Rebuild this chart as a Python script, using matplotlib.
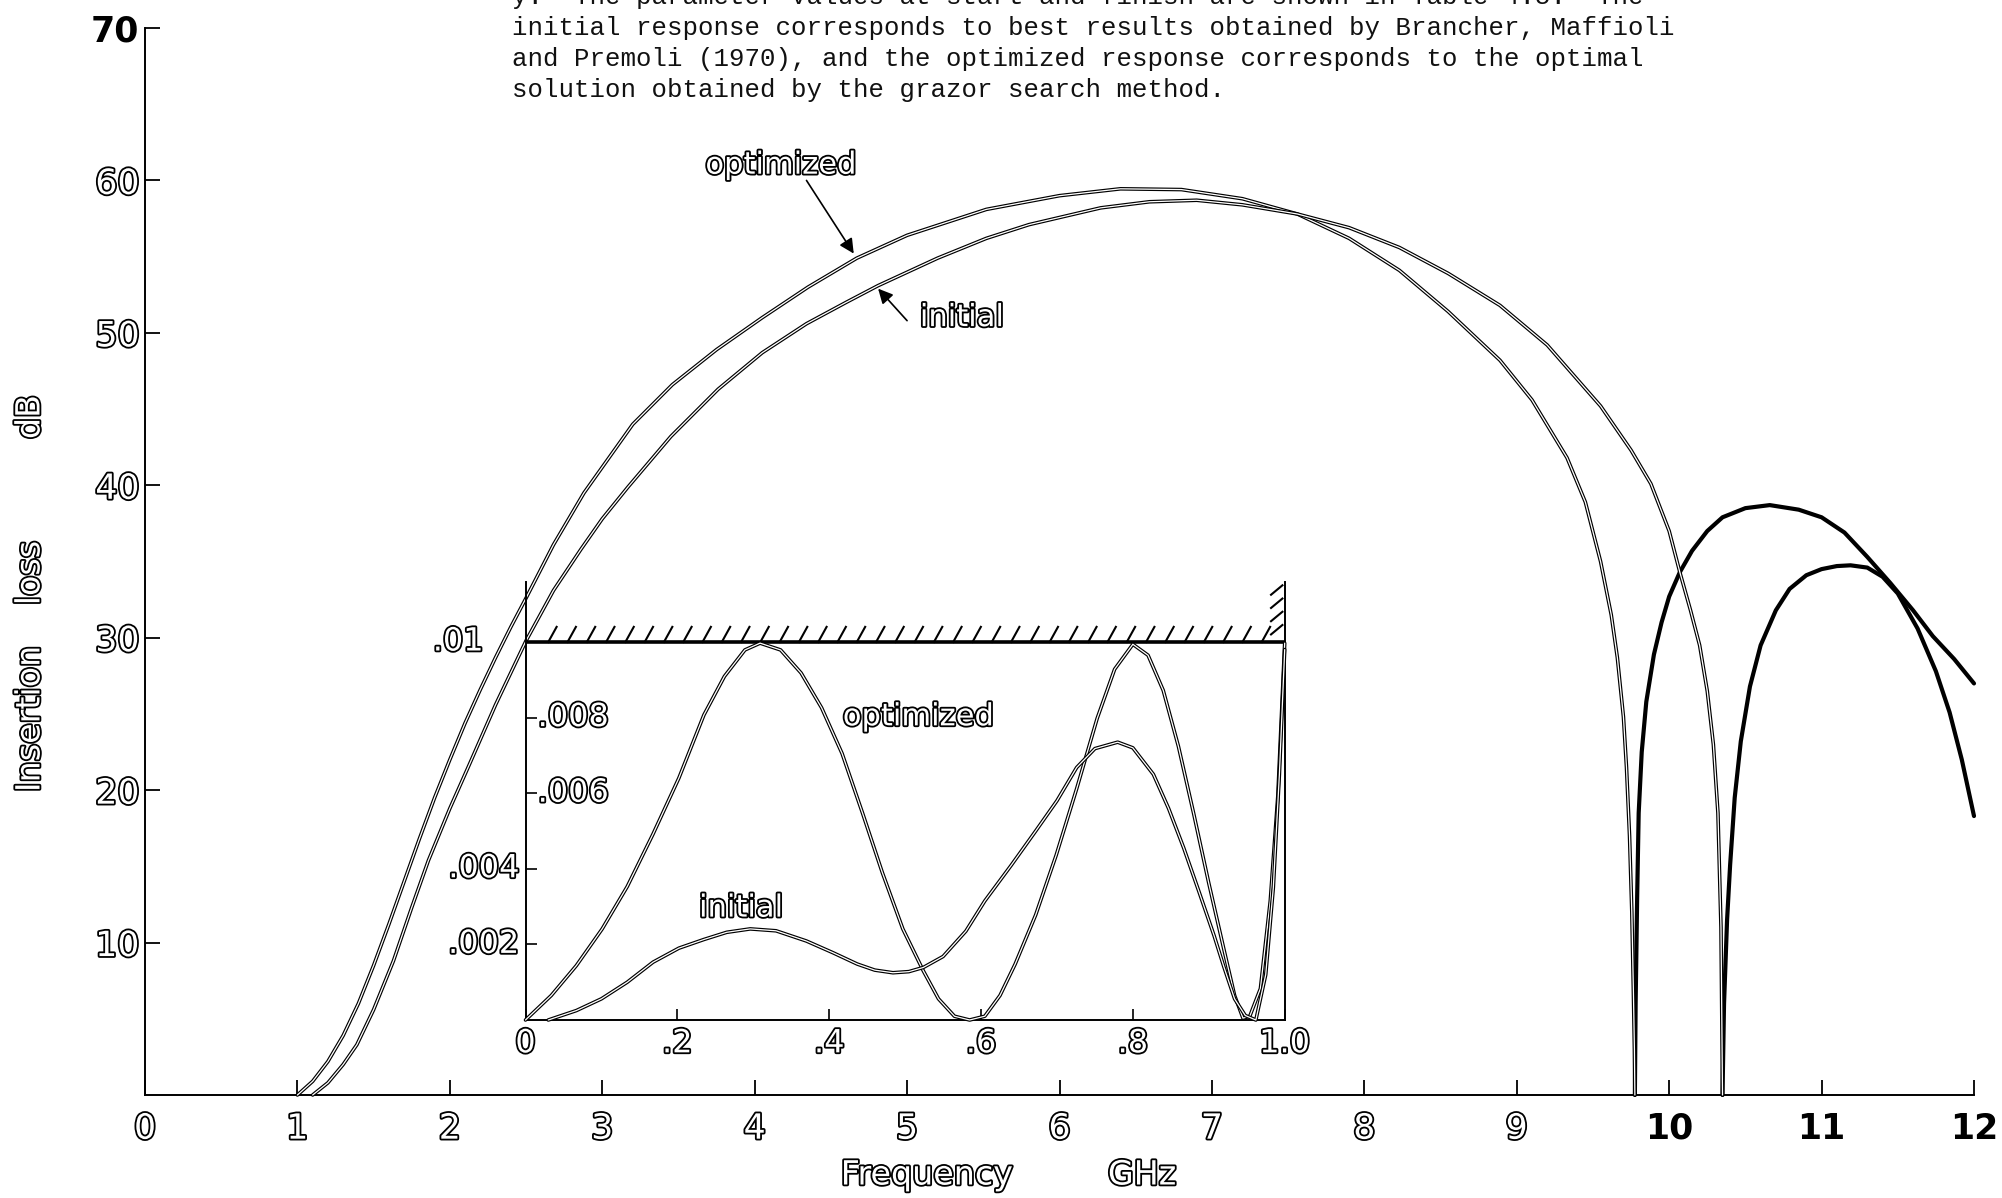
import numpy as np
import matplotlib.pyplot as plt
import matplotlib.patheffects as pe

# ---- main response, insertion loss (dB) vs frequency (GHz) ----
opt_f = [1.0, 1.1, 1.2, 1.3, 1.4, 1.5, 1.6, 1.7, 1.8, 1.9, 2.0, 2.1, 2.2, 2.3, 2.4, 2.5,
         2.68, 2.88, 3.2, 3.46, 3.75, 4.05, 4.35, 4.67, 5.0, 5.52, 6.0, 6.4, 6.8, 7.2,
         7.56, 7.9, 8.23, 8.55, 8.89, 9.1, 9.33, 9.45, 9.55, 9.62, 9.66, 9.70, 9.72,
         9.74, 9.755, 9.765, 9.772, 9.775]
opt_db = [0, 0.9, 2.2, 3.9, 6.0, 8.5, 11.2, 14.0, 16.8, 19.5, 22.0, 24.4, 26.6, 28.7, 30.7, 32.6,
          36.1, 39.5, 44.0, 46.6, 48.9, 51.0, 53.0, 54.9, 56.4, 58.1, 59.0, 59.45, 59.4, 58.8,
          57.8, 56.2, 54.1, 51.4, 48.2, 45.6, 41.8, 38.9, 35.0, 31.5, 28.7, 24.8, 21.5,
          17.0, 12.0, 7.0, 3.0, 0]

init_f = [1.1, 1.2, 1.3, 1.39, 1.5, 1.63, 1.75, 1.86, 2.0, 2.12, 2.3, 2.5, 2.68, 2.86, 3.0,
          3.17, 3.45, 3.76, 4.05, 4.34, 4.6, 4.81, 5.2, 5.52, 5.8, 6.27, 6.59, 6.9, 7.2, 7.56,
          7.9, 8.23, 8.55, 8.89, 9.2, 9.55, 9.75, 9.88, 10.0, 10.07, 10.14, 10.2, 10.25,
          10.29, 10.32, 10.34, 10.35]
init_db = [0, 0.8, 2.0, 3.3, 5.6, 8.8, 12.3, 15.4, 18.8, 21.5, 25.6, 29.8, 33.1, 35.8, 37.8,
           39.9, 43.2, 46.3, 48.7, 50.6, 52.0, 53.1, 54.9, 56.2, 57.1, 58.2, 58.6, 58.7, 58.4, 57.8,
           56.9, 55.6, 53.9, 51.8, 49.2, 45.2, 42.3, 40.1, 37.0, 34.3, 31.8, 29.5, 26.5,
           23.0, 18.5, 11.0, 0]

# lobes beyond the last attenuation pole
opt_tail_f = [9.775, 9.78, 9.79, 9.80, 9.82, 9.85, 9.9, 9.95, 10.0, 10.07, 10.15, 10.25, 10.35,
              10.5, 10.66, 10.85, 11.0, 11.15, 11.3, 11.45, 11.6, 11.73, 11.87, 12.0]
opt_tail_db = [0, 6.0, 13.0, 18.5, 22.5, 25.8, 28.9, 31.0, 32.7, 34.3, 35.7, 37.0, 37.9,
               38.5, 38.7, 38.4, 37.9, 36.9, 35.3, 33.6, 31.8, 30.1, 28.6, 27.0]
init_tail_f = [10.35, 10.36, 10.38, 10.40, 10.43, 10.47, 10.53, 10.6, 10.7, 10.79, 10.9, 11.0,
               11.1, 11.19, 11.3, 11.4, 11.5, 11.63, 11.75, 11.84, 11.92, 12.0]
init_tail_db = [0, 6.0, 11.5, 15.1, 19.5, 23.2, 26.8, 29.5, 31.8, 33.2, 34.1, 34.5,
                34.7, 34.75, 34.6, 34.0, 32.9, 30.6, 27.8, 25.1, 22.0, 18.3]

# ---- inset: passband, normalised frequency vs dB ----
ins_opt_f = [0.0, 0.034, 0.067, 0.101, 0.134, 0.168, 0.202, 0.235, 0.262, 0.289, 0.309, 0.336,
             0.363, 0.39, 0.417, 0.444, 0.47, 0.497, 0.524, 0.544, 0.565, 0.585, 0.605, 0.625,
             0.645, 0.672, 0.699, 0.726, 0.753, 0.776, 0.80, 0.82, 0.84, 0.86, 0.88, 0.90,
             0.92, 0.934, 0.945, 0.954, 0.968, 0.981, 0.991, 1.0]
ins_opt_db = [0.0, 0.00065, 0.00144, 0.00241, 0.00353, 0.00492, 0.0064, 0.00807, 0.00909,
              0.00979, 0.00997, 0.00979, 0.00918, 0.00826, 0.00705, 0.00547, 0.0039, 0.00241,
              0.0013, 0.00056, 0.0001, 0.0, 0.0001, 0.00065, 0.00148, 0.00278, 0.00436,
              0.00612, 0.00798, 0.00928, 0.00994, 0.00965, 0.00872, 0.00724, 0.00547, 0.00362,
              0.00186, 0.00065, 0.00005, 0.0001, 0.00083, 0.00315, 0.00594, 0.00997]
ins_init_f = [0.03, 0.067, 0.10, 0.134, 0.168, 0.202, 0.235, 0.265, 0.296, 0.33, 0.37, 0.405,
              0.437, 0.46, 0.484, 0.505, 0.524, 0.55, 0.58, 0.605, 0.64, 0.672, 0.70, 0.726,
              0.75, 0.78, 0.80, 0.827, 0.847, 0.867, 0.887, 0.907, 0.92, 0.934, 0.948, 0.962,
              0.975, 0.985, 0.993, 1.0]
ins_init_db = [0.0, 0.00025, 0.00056, 0.001, 0.00153, 0.0019, 0.00213, 0.00232, 0.00241,
               0.00236, 0.00209, 0.00178, 0.00148, 0.00132, 0.00125, 0.00128, 0.00139, 0.00168,
               0.00235, 0.00315, 0.0041, 0.005, 0.0058, 0.00668, 0.00718, 0.00735, 0.0072,
               0.0065, 0.0056, 0.00455, 0.0034, 0.00223, 0.0014, 0.00056, 0.00012, 0.0,
               0.0012, 0.0035, 0.0065, 0.0098]

x_ticks = list(range(13))
x_labels = [str(v) for v in x_ticks]
y_ticks = [10, 20, 30, 40, 50, 60, 70]
y_labels = [str(v) for v in y_ticks]
ins_x_ticks = [0, 0.2, 0.4, 0.6, 0.8, 1.0]
ins_x_labels = ['0', '.2', '.4', '.6', '.8', '1.0']
ins_y_ticks = [0.002, 0.004, 0.006, 0.008]
ins_y_labels = ['.002', '.004', '.006', '.008']

caption = ["y.  The parameter values at start and finish are shown in Table 4.5.  The",
           "initial response corresponds to best results obtained by Brancher, Maffioli",
           "and Premoli (1970), and the optimized response corresponds to the optimal",
           "solution obtained by the grazor search method."]

W, H = 2002, 1198
fig = plt.figure(figsize=(W / 100, H / 100), dpi=100)
fig.patch.set_facecolor('white')

hollow_fx = [pe.withStroke(linewidth=2.6, foreground='black')]


def hollow_text(t):
    t.set_color('white')
    t.set_path_effects(hollow_fx)


def hollow_line(ax, x, y, lw=2.6, z=3):
    ax.plot(x, y, color='white', lw=lw * 0.35, zorder=z, clip_on=False,
            solid_capstyle='round', solid_joinstyle='round',
            path_effects=[pe.Stroke(linewidth=lw, foreground='black'), pe.Normal()])


# main axes: x 0..12 -> px 145..1974, y 0..70 -> px 1095..28
ax = fig.add_axes([145 / W, (H - 1095) / H, 1829 / W, 1067 / H])
ax.set_xlim(0, 12)
ax.set_ylim(0, 70)
for s in ['top', 'right']:
    ax.spines[s].set_visible(False)
for s in ['left', 'bottom']:
    ax.spines[s].set_linewidth(1.4)
ax.tick_params(direction='in', length=11, width=1.3)
ax.tick_params(axis='x', pad=12)
ax.tick_params(axis='y', pad=4)
ax.set_xticks(x_ticks)
ax.set_xticklabels(x_labels, fontsize=25)
ax.set_yticks(y_ticks)
ax.set_yticklabels(y_labels, fontsize=25)
for t in ax.get_xticklabels():
    if t.get_text() in ('10', '11', '12'):
        t.set_fontweight('bold')
    else:
        hollow_text(t)
for t in ax.get_yticklabels():
    if t.get_text() == '70':
        t.set_fontweight('bold')
    else:
        hollow_text(t)

hollow_line(ax, opt_f, opt_db)
hollow_line(ax, init_f, init_db)
ax.plot(opt_tail_f, opt_tail_db, color='black', lw=3.0, clip_on=False, solid_capstyle='round')
ax.plot(init_tail_f, init_tail_db, color='black', lw=3.0, clip_on=False, solid_capstyle='round')

# curve labels with arrows
hollow_text(ax.text(4.17, 61.0, 'optimized', fontsize=22, ha='center', va='center'))
hollow_text(ax.text(5.36, 51.0, 'initial', fontsize=22, ha='center', va='center'))
ax.annotate('', xy=(4.65, 55.2), xytext=(4.34, 60.0),
            arrowprops=dict(arrowstyle='-|>', lw=1.2, color='black', mutation_scale=22,
                            shrinkA=0, shrinkB=0))
ax.annotate('', xy=(4.81, 52.9), xytext=(5.0, 50.8),
            arrowprops=dict(arrowstyle='-|>', lw=1.2, color='black', mutation_scale=22,
                            shrinkA=0, shrinkB=0))

# axis titles
for word, yc in [('Insertion', 719), ('loss', 573), ('dB', 417)]:
    hollow_text(fig.text(30 / W, 1 - yc / H, word, fontsize=24, rotation=90,
                         ha='center', va='center'))
for word, xc in [('Frequency', 927), ('GHz', 1142)]:
    hollow_text(fig.text(xc / W, 1 - 1175 / H, word, fontsize=24, ha='center', va='center'))

# typed caption at the top (first line cut by the page edge, as on the scan)
for i, line in enumerate(caption):
    fig.text(512 / W, 1 - (-3 + 31 * i) / H, line, fontsize=18.5, family='Liberation Mono',
             ha='left', va='center', color='#111111')

# inset axes: x 0..1 -> px 525.5..1284.7, y 0..0.0116 -> px 1020..581
ins_top = 0.0116
ins = fig.add_axes([525.5 / W, (H - 1020) / H, 759.2 / W, 378 * ins_top / 0.01 / H])
ins.set_xlim(0, 1)
ins.set_ylim(0, ins_top)
ins.patch.set_alpha(0)
ins.spines['top'].set_visible(False)
for s in ['left', 'bottom', 'right']:
    ins.spines[s].set_linewidth(1.4)
ins.tick_params(direction='in', length=8, width=1.2)
ins.tick_params(axis='x', pad=6)
ins.set_xticks(ins_x_ticks)
ins.set_xticklabels(ins_x_labels, fontsize=23)
for t in ins.get_xticklabels():
    hollow_text(t)
ins.set_yticks(ins_y_ticks)
ins.set_yticklabels([])

# 0.01 dB specification line with hatching
ins.axhline(0.01, color='black', lw=2.6, zorder=4)
for hx in np.arange(0.03, 0.985, 0.0254):
    ins.plot([hx, hx + 0.011], [0.01, 0.0104], color='black', lw=1.5, clip_on=False)
for hy in np.arange(0.0102, 0.0114, 0.00035):
    ins.plot([0.982, 0.997], [hy, hy + 0.00025], color='black', lw=1.5, clip_on=False)

hollow_text(ins.text(-0.055, 0.0100, '.01', fontsize=23, ha='right', va='center'))
for lab, v in zip(ins_y_labels, ins_y_ticks):
    if v > 0.005:
        hollow_text(ins.text(0.016, v, lab, fontsize=23, ha='left', va='center'))
    else:
        hollow_text(ins.text(-0.008, v, lab, fontsize=23, ha='right', va='center'))

hollow_line(ins, ins_opt_f, ins_opt_db, z=5)
hollow_line(ins, ins_init_f, ins_init_db, z=5)
hollow_text(ins.text(0.517, 0.00802, 'optimized', fontsize=22, ha='center', va='center'))
hollow_text(ins.text(0.284, 0.00296, 'initial', fontsize=22, ha='center', va='center'))

fig.savefig('out.png', dpi=100, facecolor='white')
